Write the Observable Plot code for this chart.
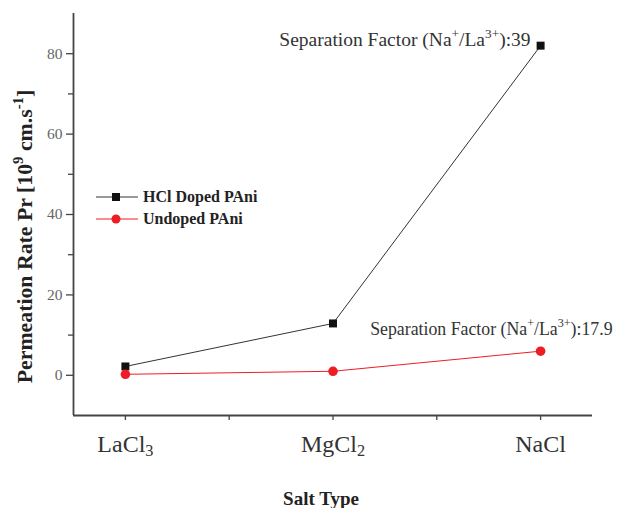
<!DOCTYPE html>
<html><head><meta charset="utf-8">
<script src="https://cdn.jsdelivr.net/npm/d3@7"></script>
<script src="https://cdn.jsdelivr.net/npm/@observablehq/plot@0.6"></script>
<style>
body{margin:0;background:#fff;}
#wrap{position:relative;width:636px;height:508px;font-family:'Liberation Serif','Times New Roman',serif;}
#wrap svg text{font-family:'Liberation Serif','Times New Roman',serif;}
#legend{position:absolute;left:96px;top:186px;font-weight:bold;font-size:16px;color:#222;font-family:'Liberation Serif','Times New Roman',serif;}
#legend .item{display:flex;align-items:center;height:22px;}
#legend svg{margin-right:5px;}
</style></head><body><div id="wrap"><div id="legend"></div></div>
<script>
// ---- data ----
const salts = ["LaCl_{3}", "MgCl_{2}", "NaCl"];
const dopedValues = [2.2, 12.9, 82];
const undopedValues = [0.25, 1.0, 6.0];
const seriesNames = ["HCl Doped PAni", "Undoped PAni"];
const seriesColors = ["#333", "#ee1c24"];
const yTicks = [0, 20, 40, 60, 80];
const yMinorTicks = [10, 30, 50, 70];
const xTicks = [0, 0.5, 1, 1.5, 2];
const annotationTexts = ["Separation Factor (Na^{+}/La^{3+}):39", "Separation Factor (Na^{+}/La^{3+}):17.9"];
const yLabel = "Permeation Rate Pr [10^{9} cm.s^{-1}]";
const xLabel = "Salt Type";

const doped = salts.map((s, i) => ({i, v: dopedValues[i]}));
const undoped = salts.map((s, i) => ({i, v: undopedValues[i]}));
const notes = [
  {i: 2, v: dopedValues[2], t: annotationTexts[0]},
  {i: 2, v: undopedValues[2], t: annotationTexts[1]}
];

const serif = "'Liberation Serif','Times New Roman',serif";
const axisColor = "#444";

const chart = Plot.plot({
  width: 636, height: 508,
  marginLeft: 73, marginRight: 44, marginTop: 13, marginBottom: 93,
  style: {fontFamily: serif, background: "white", overflow: "visible"},
  x: {domain: [-0.25, 2.25], axis: null},
  y: {domain: [-10, 90], axis: null},
  marks: [
    Plot.axisY(yTicks, {tickSize: 7, tickPadding: 4, fontSize: 15.5, fill: "#666", stroke: axisColor, strokeWidth: 1.3, label: null, tickFormat: d => String(d)}),
    Plot.axisY(yMinorTicks, {tickSize: 5, stroke: axisColor, strokeWidth: 1.3, label: null, tickFormat: () => ""}),
    Plot.axisX(xTicks, {tickSize: 5, tickPadding: 14, fontSize: 24, fill: "#333", stroke: axisColor, strokeWidth: 1.3, label: null, tickFormat: d => Number.isInteger(d) ? salts[d] : ""}),
    Plot.ruleX([-0.25], {stroke: axisColor, strokeWidth: 1.8}),
    Plot.ruleY([-10], {stroke: axisColor, strokeWidth: 1.8}),
    Plot.line(doped, {x: "i", y: "v", stroke: seriesColors[0], strokeWidth: 1}),
    Plot.line(undoped, {x: "i", y: "v", stroke: seriesColors[1], strokeWidth: 1}),
    Plot.dot(doped, {x: "i", y: "v", symbol: "square", r: 4.5, fill: "#111", stroke: "none"}),
    Plot.dot(undoped, {x: "i", y: "v", symbol: "circle", r: 4.8, fill: seriesColors[1], stroke: "none"}),
    Plot.text([notes[0]], {x: "i", y: "v", text: "t", textAnchor: "end", lineAnchor: "middle", dx: -10, dy: -6, fontSize: 19.5, fill: "#333"}),
    Plot.text([notes[1]], {x: "i", y: "v", text: "t", textAnchor: "end", lineAnchor: "middle", dx: 72, dy: -22, fontSize: 17.8, fill: "#333"}),
    Plot.text([yLabel], {frameAnchor: "left", textAnchor: "middle", lineAnchor: "middle", rotate: -90, dx: -48, dy: 22, fontSize: 21.8, fontWeight: "bold", fill: "#222"}),
    Plot.text([xLabel], {frameAnchor: "bottom", textAnchor: "middle", lineAnchor: "middle", dx: -12, dy: 83, fontSize: 19, fontWeight: "bold", fill: "#222"})
  ]
});
document.getElementById("wrap").prepend(chart);

// rich text: ^{...} superscript, _{...} subscript
function richify(root) {
  d3.select(root).selectAll("text").each(function() {
    const el = this;
    const s = el.textContent;
    if (!/[\^_]\{/.test(s)) return;
    const fs = parseFloat(getComputedStyle(el).fontSize) || 16;
    el.textContent = "";
    const re = /([\^_])\{([^}]*)\}|([^\^_]+)/g;
    let m, shift = 0;
    while ((m = re.exec(s))) {
      const t = document.createElementNS("http://www.w3.org/2000/svg", "tspan");
      if (m[3] !== undefined) {
        t.textContent = m[3];
        if (shift) t.setAttribute("dy", -shift);
        shift = 0;
      } else {
        const sup = m[1] === "^";
        const d = sup ? -0.42 * fs : 0.18 * fs;
        t.textContent = m[2];
        t.setAttribute("font-size", (0.68 * fs).toFixed(1));
        t.setAttribute("dy", (d - shift).toFixed(1));
        shift = d;
      }
      el.appendChild(t);
    }
  });
}
richify(chart);

// legend
const legend = d3.select("#legend");
seriesNames.forEach((name, k) => {
  const item = legend.append("div").attr("class", "item");
  const svg = item.append("svg").attr("width", 42).attr("height", 12);
  svg.append("line").attr("x1", 0).attr("x2", 42).attr("y1", 6).attr("y2", 6).attr("stroke", seriesColors[k]).attr("stroke-width", 1);
  if (k === 0) svg.append("rect").attr("x", 16).attr("y", 2).attr("width", 8).attr("height", 8).attr("fill", "#111");
  else svg.append("circle").attr("cx", 20).attr("cy", 6).attr("r", 4.5).attr("fill", seriesColors[1]);
  item.append("span").text(name);
});
</script>
</body></html>
